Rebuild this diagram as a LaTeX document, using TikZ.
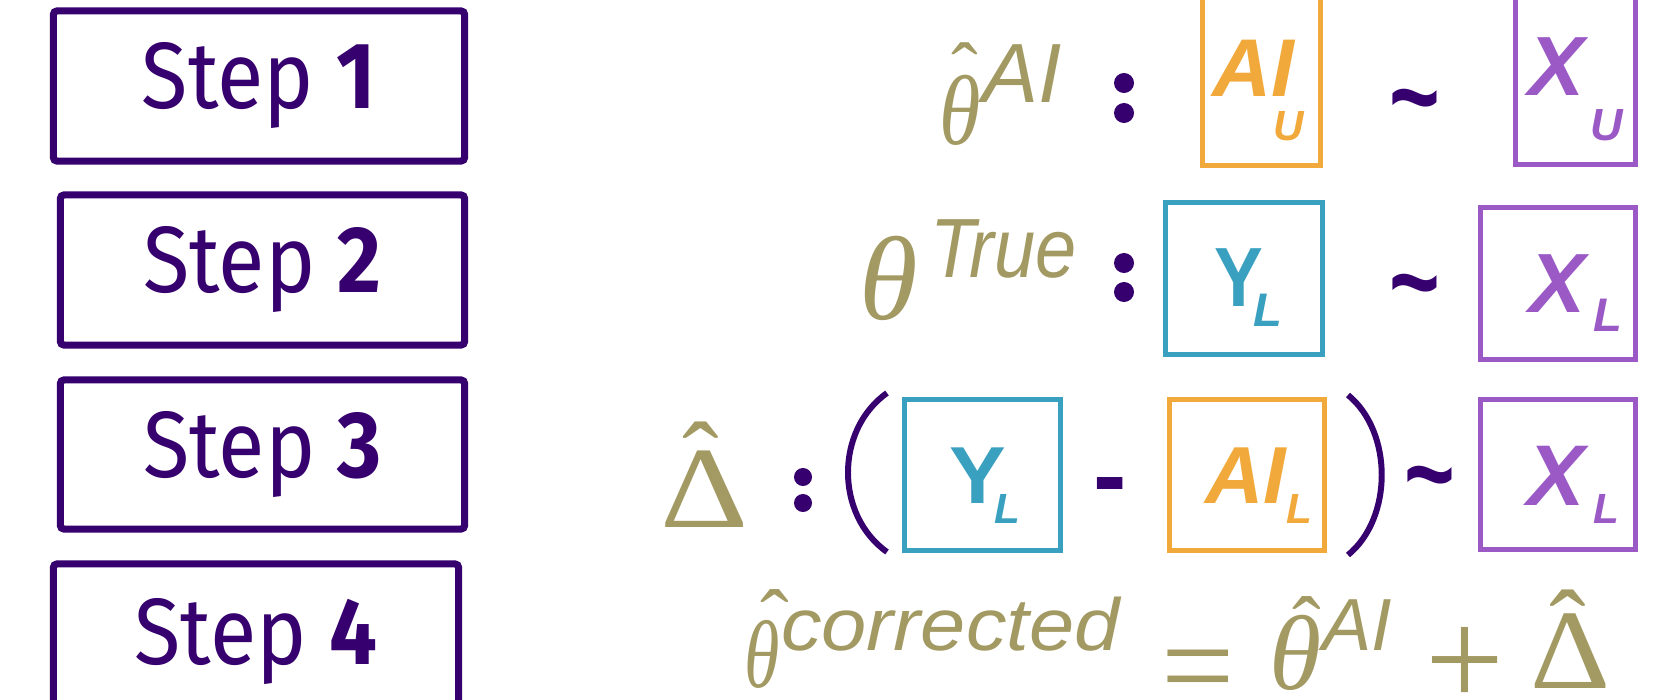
\documentclass[tikz,border=0pt]{standalone}
\usepackage{graphicx}
\usepackage{fontspec}
\newfontfamily\stepfont[FakeStretch=0.9]{Fira Sans}
\newfontfamily\serf{Liberation Serif}
\newfontfamily\sanf{Liberation Sans}
\definecolor{dpurple}{HTML}{36006E}
\definecolor{olivk}{HTML}{A39A63}
\definecolor{aiorange}{HTML}{F2A93B}
\definecolor{tealb}{HTML}{3AA0C0}
\definecolor{xpurple}{HTML}{9B59C6}
\newcommand\fsz[1]{\fontsize{#1pt}{#1pt}\selectfont}
\tikzset{
  stepbox/.style={draw=dpurple, line width=2pt, rounded corners=1pt, minimum width=4.11cm,
    minimum height=1.5cm, text=dpurple, inner sep=0pt, font=\stepfont\fsz{26.8}},
  txt/.style={inner sep=0pt, outer sep=0pt},
  olv/.style={txt, text=olivk},
  databox/.style={line width=1.4pt},
  cdot/.style={circle, fill=dpurple, draw=none, minimum size=0.2cm, inner sep=0pt},
  bi/.style={txt, anchor=base west, font=\sanf\bfseries\itshape\fsz{#1}},
  tld/.style={txt, text=dpurple, anchor=north, font=\sanf\bfseries\fsz{24.7}},
  paren/.style={dpurple, line width=1.7pt},
}
\begin{document}
\begin{tikzpicture}[x=0.01cm,y=-0.01cm]
\path[use as bounding box, fill=white] (0,0) rectangle (1659,700);
% step boxes
\node[stepbox] (s1) at (259,86) {Step \textbf{1}};
\node[stepbox, minimum width=4.04cm] (s2) at (262.5,270) {Step \textbf{2}};
\node[stepbox, minimum width=4.04cm, minimum height=1.49cm] (s3) at (262.5,454.5) {Step \textbf{3}};
\node[stepbox, minimum width=4.05cm, minimum height=1.55cm] (s4) at (256,641.5) {Step \textbf{4}};

% row 1
\node[olv, anchor=base, font=\serf\itshape\fsz{28.2}] (th1) at (960,144) {\scalebox{0.85}[1]{θ}};
\node[olv, anchor=north, font=\serf\fsz{22.8}] (h1) at (965,43) {ˆ};
\node[olv, anchor=base west, font=\sanf\itshape\fsz{23.9}] (sup1) at (982,103) {AI};
\node[cdot] (c1a) at (1124,83) {};
\node[cdot] (c1b) at (1124,113) {};
\draw[databox, aiorange] (1202.5,-10) rectangle (1320.5,165.5);
\node[bi=23.3, text=aiorange] (ai1) at (1212,97) {AI};
\node[bi=12, text=aiorange] (u1) at (1273,140) {U};
\node[tld] (t1) at (1415,89) {\scalebox{1}[1.3]{\symbol{"7E}}};
\draw[databox, xpurple] (1515.5,-10) rectangle (1635.5,164.5);
\node[bi=23.9, text=xpurple] (x1) at (1528,95) {X};
\node[bi=12.8, text=xpurple] (u1b) at (1590,140) {U};

% row 2
\node[olv, anchor=base, font=\serf\itshape\fsz{33.9}] (th2) at (889,319) {θ};
\node[olv, anchor=base west, font=\sanf\itshape\fsz{23.9}] (sup2) at (930,277) {\scalebox{0.88}[1]{True}};
\node[cdot] (c2a) at (1124,263) {};
\node[cdot] (c2b) at (1124,292) {};
\draw[databox, tealb] (1165.5,202.5) rectangle (1322.5,354.5);
\node[txt, text=tealb, anchor=base, font=\sanf\bfseries\fsz{23.9}] (y2) at (1239,307) {\scalebox{0.87}[1]{Y}};
\node[bi=13.4, text=tealb] (l2) at (1253,327) {L};
\node[tld] (t2) at (1415,274) {\scalebox{1}[1.3]{\symbol{"7E}}};
\draw[databox, xpurple] (1480.5,207.5) rectangle (1635.5,359.5);
\node[bi=23.9, text=xpurple] (x2) at (1529,312) {X};
\node[bi=13.4, text=xpurple] (l2b) at (1593,331) {L};

% row 3
\node[olv, anchor=base, font=\serf\fsz{33}] (d3) at (705,527) {\scalebox{1.18}[1]{Δ}};
\node[olv, anchor=north, font=\serf\fsz{31.3}] (h3) at (701,422) {ˆ};
\node[cdot, minimum size=0.18cm] (c3a) at (803,477) {};
\node[cdot, minimum size=0.18cm] (c3b) at (803,503) {};
\draw[paren] (887,393) .. controls (835,430) and (835,515) .. (887,552);
\draw[databox, tealb] (904.5,399.5) rectangle (1060.5,550.5);
\node[txt, text=tealb, anchor=base, font=\sanf\bfseries\fsz{23}] (y3) at (978,503) {\scalebox{1.05}[1]{Y}};
\node[bi=12, text=tealb] (l3) at (994,523) {L};
\node[txt, text=dpurple, anchor=north, font=\sanf\bfseries\fsz{28.5}] (m3) at (1110,478) {-};
\draw[databox, aiorange] (1169.5,399.5) rectangle (1324.5,550.5);
\node[bi=23, text=aiorange] (ai3) at (1205,503) {AI};
\node[bi=12, text=aiorange] (l3b) at (1286,523) {L};
\draw[paren] (1348,395) .. controls (1393,432) and (1393,518) .. (1348,555);
\node[tld] (t3) at (1430,466) {\scalebox{1}[1.3]{\symbol{"7E}}};
\draw[databox, xpurple] (1480.5,399.5) rectangle (1635.5,549.5);
\node[bi=24.5, text=xpurple] (x3) at (1527,505) {X};
\node[bi=12, text=xpurple] (l3c) at (1593,523) {L};

% row 4
\node[olv, anchor=base, font=\serf\itshape\fsz{27.3}] (th4) at (762,687) {\scalebox{0.75}[1]{θ}};
\node[olv, anchor=north, font=\serf\fsz{24.5}] (h4) at (775,590) {ˆ};
\node[olv, anchor=base west, font=\sanf\itshape\fsz{21}] (sup4) at (781,650) {\scalebox{1.1}[1]{corrected}};
\node[olv, anchor=north, font=\serf\fsz{37}] (eq4) at (1198,650) {=};
\node[olv, anchor=base, font=\serf\itshape\fsz{30.2}] (th4b) at (1296,689) {θ};
\node[olv, anchor=north, font=\serf\fsz{24.5}] (h4b) at (1307,597) {ˆ};
\node[olv, anchor=base west, font=\sanf\itshape\fsz{21}] (sup4b) at (1322,650) {AI};
\node[olv, anchor=north, font=\serf\fsz{39.8}] (pl4) at (1465,627) {+};
\node[olv, anchor=base, font=\serf\fsz{32.2}] (d4) at (1571,688) {\scalebox{1.1}[1]{Δ}};
\node[olv, anchor=north, font=\serf\fsz{31.3}] (h4c) at (1568,590) {ˆ};
\end{tikzpicture}
\end{document}
